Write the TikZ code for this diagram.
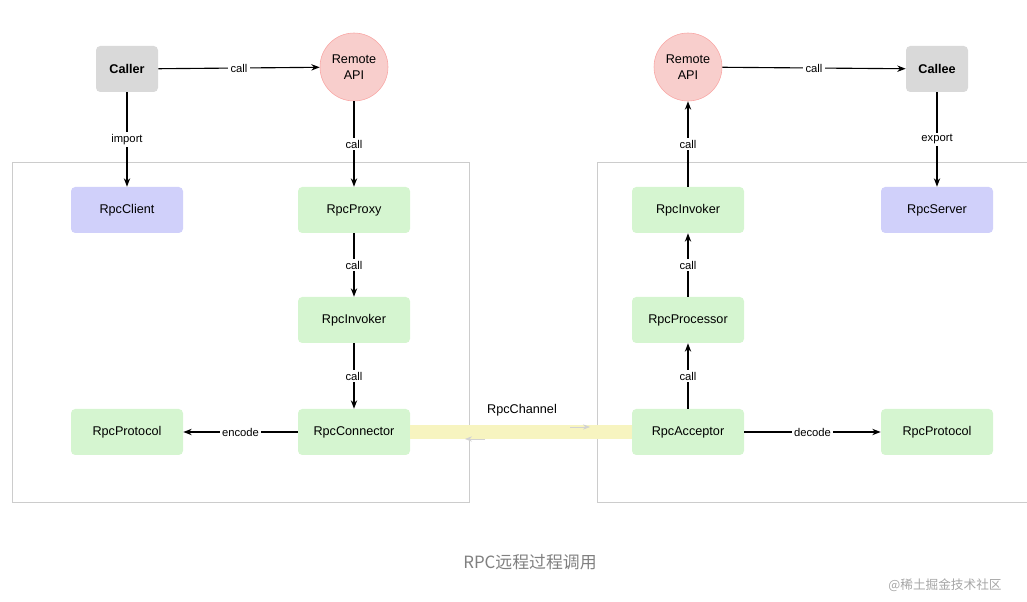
\documentclass[tikz,border=0pt]{standalone}
\usepackage{fontspec}
\setmainfont{Liberation Sans}
\newfontfamily\cjk{Noto Sans CJK SC}
\usetikzlibrary{arrows.meta}
\definecolor{grayfill}{HTML}{D9D9D9}
\definecolor{pinkfill}{HTML}{F8CECC}
\definecolor{violetfill}{HTML}{D0D0FA}
\definecolor{greenfill}{HTML}{D5F5D0}
\definecolor{chanfill}{HTML}{F7F4C0}
\tikzset{
  box/.style={rounded corners=3pt,minimum width=112*0.025cm,minimum height=46*0.025cm,font=\small},
  ext/.style={box,fill=grayfill,minimum width=62*0.025cm,font=\small\bfseries},
  api/.style={circle,fill=pinkfill,draw=pinkfill!80!red,minimum size=68*0.025cm,align=center,font=\small,inner sep=0pt},
  client/.style={box,fill=violetfill},
  part/.style={box,fill=greenfill},
  flow/.style={-{Stealth[length=6pt]},thick},
  lbl/.style={fill=white,font=\footnotesize,inner sep=1.5pt}
}
\begin{document}
\begin{tikzpicture}[x=0.025cm,y=-0.025cm]
  \useasboundingbox (0,0) rectangle (1027,602);
  % frames
  \draw[gray!40] (12,162) rectangle (469,502);
  \draw[gray!40] (597,162) rectangle (1027,502);
  % top row
  \node[ext] (caller) at (127,69) {Caller};
  \node[api] (apiL) at (354,67) {Remote\\API};
  \node[api] (apiR) at (688,67) {Remote\\API};
  \node[ext] (callee) at (937,69) {Callee};
  % left side
  \node[client] (client) at (127,210) {RpcClient};
  \node[part] (proxy) at (354,210) {RpcProxy};
  \node[part] (invokerL) at (354,320) {RpcInvoker};
  \node[part] (connector) at (354,432) {RpcConnector};
  \node[part] (protoL) at (127,432) {RpcProtocol};
  % right side
  \node[part] (invokerR) at (688,210) {RpcInvoker};
  \node[part] (processor) at (688,320) {RpcProcessor};
  \node[part] (acceptor) at (688,432) {RpcAcceptor};
  \node[client] (server) at (937,210) {RpcServer};
  \node[part] (protoR) at (937,432) {RpcProtocol};
  % channel
  \fill[chanfill] (connector.east) ++(0,-7) rectangle ([yshift=-7*0.025cm]acceptor.west);
  \node[font=\small] (chan) at (522,410) {RpcChannel};
  \coordinate (chanA) at (590,427);
  \coordinate (chanB) at (465,439);
  \draw[-{Stealth[length=5pt]},gray!35] ([xshift=-20*0.025cm]chanA) -- (chanA);
  \draw[-{Stealth[length=5pt]},gray!35] ([xshift=20*0.025cm]chanB) -- (chanB);
  % connectors
  \draw[flow] (caller) -- node[lbl] {call} (apiL);
  \draw[flow] (apiR) -- node[lbl] {call} (callee);
  \draw[flow] (caller) -- node[lbl] {import} (client);
  \draw[flow] (callee) -- node[lbl] {export} (server);
  \draw[flow] (apiL) -- node[lbl] {call} (proxy);
  \draw[flow] (proxy) -- node[lbl] {call} (invokerL);
  \draw[flow] (invokerL) -- node[lbl] {call} (connector);
  \draw[flow] (connector) -- node[lbl] {encode} (protoL);
  \draw[flow] (acceptor) -- node[lbl] {decode} (protoR);
  \draw[flow] (acceptor) -- node[lbl] {call} (processor);
  \draw[flow] (processor) -- node[lbl] {call} (invokerR);
  \draw[flow] (invokerR) -- node[lbl] {call} (apiR);
  % caption
  \node[text=gray,font=\cjk\large] (caption) at (530,562) {RPC远程过程调用};
  \node[text=gray!70,font=\cjk\small] (mark) at (945,585) {@稀土掘金技术社区};
\end{tikzpicture}
\end{document}
